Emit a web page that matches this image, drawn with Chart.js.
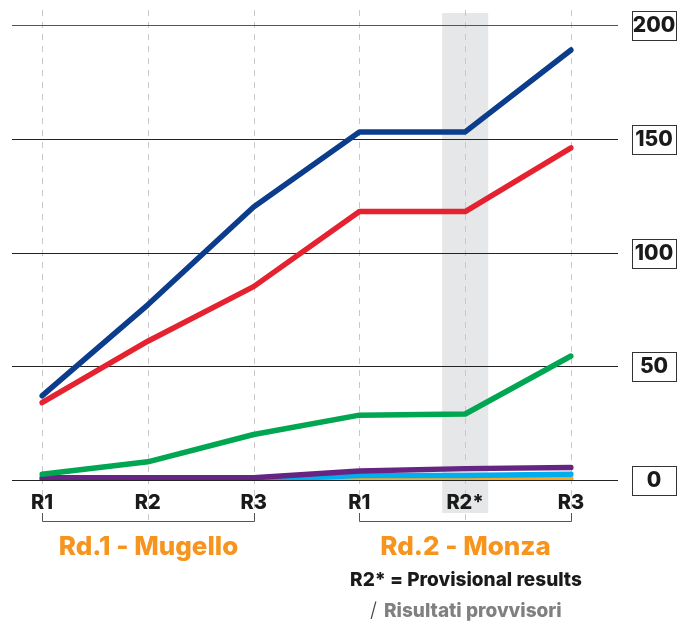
<!DOCTYPE html>
<html>
<head>
<meta charset="utf-8">
<script src="https://cdn.jsdelivr.net/npm/chart.js@4"></script>
<style>
  html, body { margin: 0; padding: 0; background: #fff; }
  #wrap { width: 693px; height: 626px; }
</style>
</head>
<body>
<div id="wrap"><canvas id="chart" width="693" height="626"></canvas></div>
<script>
// race labels along the x axis
var races = ['R1', 'R2', 'R3', 'R1', 'R2*', 'R3'];
var yTicks = [0, 50, 100, 150, 200];

// cumulative points per rider
var blueSeries = [37, 77, 120, 153, 153, 189];
var redSeries = [34, 61, 85, 118, 118, 146];
var greenSeries = [2.5, 8, 20, 28.5, 29, 54.5];
var purpleSeries = [1, 1, 1, 4, 5, 5.5];
var cyanSeries = [0, 0, 0, 2, 2, 2.5];
var orangeSeries = [0, 0, 0, 0.5, 0.5, 0.5];

var rounds = [
    { label: 'Rd.1 - Mugello', from: 0, to: 2 },
    { label: 'Rd.2 - Monza', from: 3, to: 5 }
];
var provisionalIndex = 4;

var FONT = 'Inter, "Open Sans", sans-serif';

function line(data, color) {
    return {
        data: data,
        borderColor: color,
        backgroundColor: color,
        borderWidth: 5.5,
        tension: 0,
        pointRadius: 0,
        borderCapStyle: 'round',
        borderJoinStyle: 'round',
        fill: false
    };
}

// background stuff: grey band, dashed verticals, gridlines
var backdrop = {
    id: 'backdrop',
    beforeDraw: function(chart) {
        var ctx = chart.ctx;
        var x = chart.scales.x;
        var y = chart.scales.y;
        ctx.save();

        // provisional column
        var px = x.getPixelForValue(provisionalIndex);
        ctx.fillStyle = '#e6e7e8';
        ctx.fillRect(px - 23, 13, 46, 500);

        // dashed verticals
        ctx.strokeStyle = '#c8c8c8';
        ctx.lineWidth = 1;
        ctx.setLineDash([6, 6]);
        for (var i = 0; i < races.length; i++) {
            var vx = Math.round(x.getPixelForValue(i)) + 0.5;
            ctx.beginPath();
            ctx.moveTo(vx, 10);
            ctx.lineTo(vx, 520);
            ctx.stroke();
        }
        ctx.setLineDash([]);

        // horizontal gridlines
        yTicks.forEach(function(v) {
            var gy = Math.round(y.getPixelForValue(v)) + 0.5;
            ctx.strokeStyle = v === 200 ? '#555' : '#222';
            ctx.beginPath();
            ctx.moveTo(12, gy);
            ctx.lineTo(618, gy);
            ctx.stroke();
        });
        ctx.restore();
    },
    afterDraw: function(chart) {
        var ctx = chart.ctx;
        var x = chart.scales.x;
        var y = chart.scales.y;
        ctx.save();

        // boxed value labels on the right
        ctx.font = '800 21px ' + FONT;
        ctx.textAlign = 'center';
        ctx.textBaseline = 'middle';
        yTicks.forEach(function(v) {
            var gy = Math.round(y.getPixelForValue(v));
            ctx.fillStyle = '#fff';
            ctx.fillRect(632, gy - 14, 44, 29);
            ctx.strokeStyle = '#333';
            ctx.lineWidth = 1;
            ctx.strokeRect(632.5, gy - 13.5, 44, 29);
            ctx.fillStyle = '#1a1a1a';
            ctx.fillText(String(v), 654, gy + 1);
        });

        // round brackets and names
        rounds.forEach(function(r) {
            var x0 = Math.round(x.getPixelForValue(r.from)) + 0.5;
            var x1 = Math.round(x.getPixelForValue(r.to)) + 0.5;
            ctx.strokeStyle = '#555';
            ctx.lineWidth = 1;
            ctx.beginPath();
            ctx.moveTo(x0, 513);
            ctx.lineTo(x0, 521.5);
            ctx.lineTo(x1, 521.5);
            ctx.lineTo(x1, 513);
            ctx.stroke();
            ctx.fillStyle = '#f7941d';
            ctx.font = '800 26px ' + FONT;
            ctx.fillText(r.label, (x0 + x1) / 2, 547);
        });

        // footnote
        ctx.textAlign = 'center';
        ctx.fillStyle = '#1a1a1a';
        ctx.font = '800 19px ' + FONT;
        ctx.fillText('R2* = Provisional results', 466, 580);
        ctx.textAlign = 'left';
        ctx.fillStyle = '#444';
        ctx.font = '300 20px ' + FONT;
        ctx.fillText('/', 370, 611);
        ctx.fillStyle = '#808080';
        ctx.font = '800 19px ' + FONT;
        ctx.fillText('Risultati provvisori', 384, 611);
        ctx.restore();
    }
};

new Chart(document.getElementById('chart'), {
    type: 'line',
    data: {
        labels: races,
        datasets: [
            line(blueSeries, '#0b3d8c'),
            line(redSeries, '#e52330'),
            line(greenSeries, '#00a651'),
            line(purpleSeries, '#662483'),
            line(cyanSeries, '#00aeef'),
            line(orangeSeries, '#f7a823')
        ]
    },
    options: {
        responsive: false,
        animation: false,
        layout: { padding: { left: 42, right: 122, top: 25, bottom: 100 } },
        plugins: { legend: { display: false }, tooltip: { enabled: false } },
        scales: {
            x: {
                offset: false,
                grid: { display: false, drawTicks: false },
                border: { display: false },
                ticks: {
                    color: '#1a1a1a',
                    font: { family: FONT, size: 20, weight: '800' },
                    padding: 11,
                    maxRotation: 0,
                    autoSkip: false
                }
            },
            y: {
                display: false,
                min: 0,
                max: 200
            }
        }
    },
    plugins: [backdrop]
});
</script>
</body>
</html>
